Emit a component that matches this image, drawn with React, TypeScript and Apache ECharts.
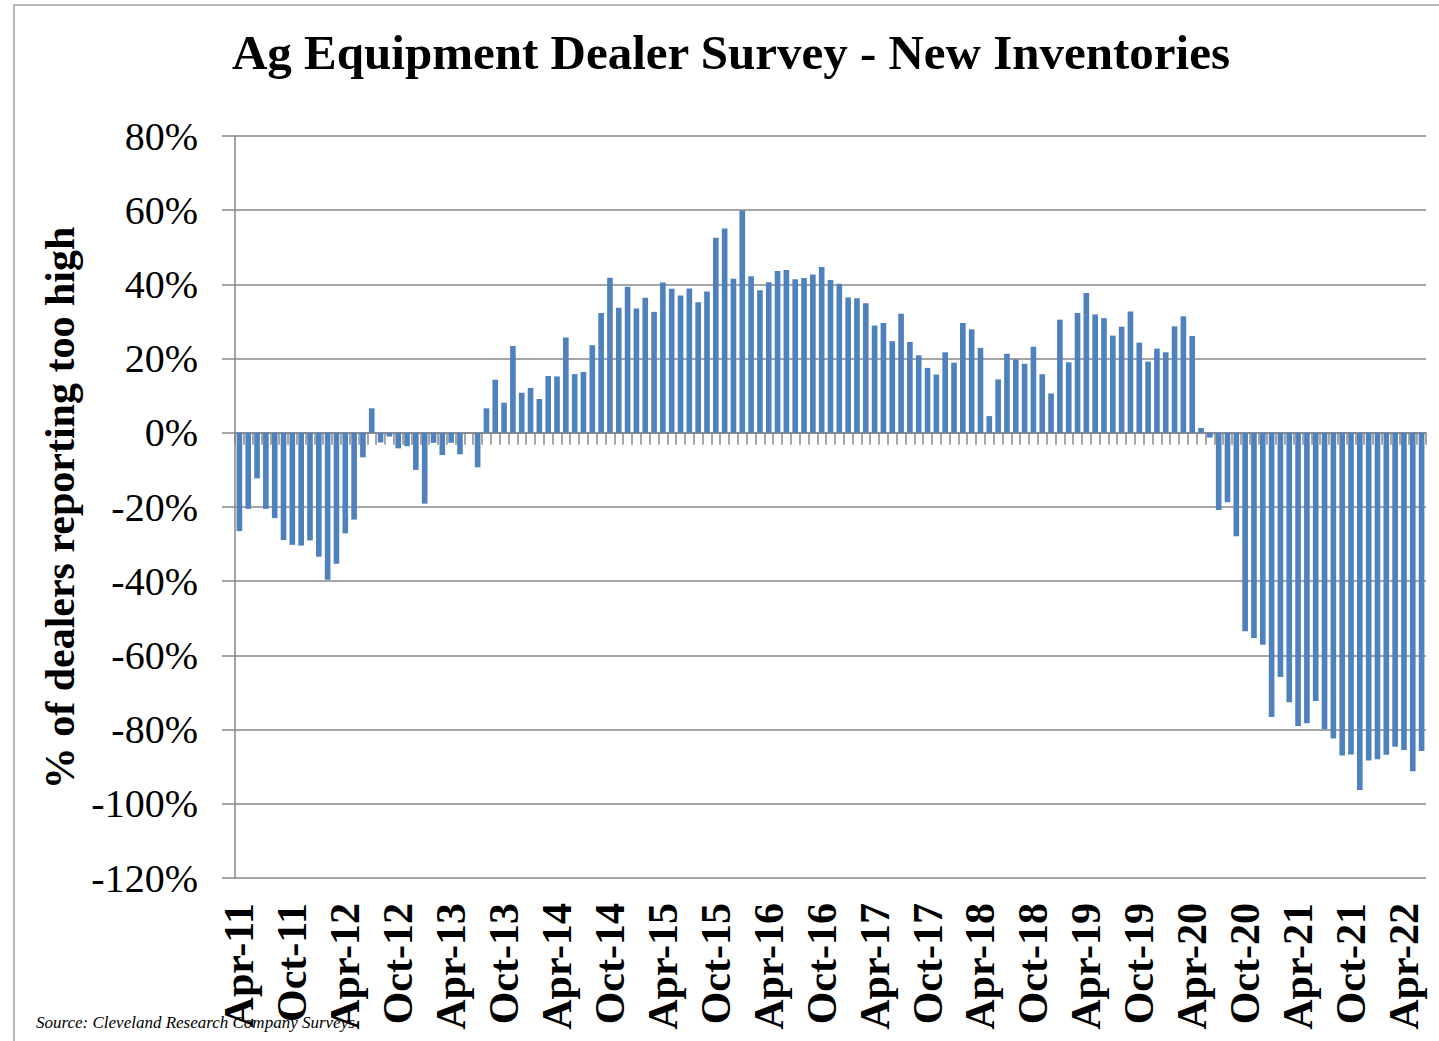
import React, { useEffect, useRef } from "react";
import * as echarts from "echarts";

const TITLE = "Ag Equipment Dealer Survey - New Inventories";
const Y_NAME = "% of dealers reporting too high";
const SOURCE = "Source: Cleveland Research Company Surveys";

const MONTHS = ["Jan", "Feb", "Mar", "Apr", "May", "Jun", "Jul", "Aug", "Sep", "Oct", "Nov", "Dec"];
// Monthly categories Apr-11 .. Jun-22
const categories: string[] = [];
for (let y = 2011; y <= 2022; y++) {
  for (let m = 0; m < 12; m++) {
    if (y === 2011 && m < 3) continue;
    if (y === 2022 && m > 5) continue;
    categories.push(`${MONTHS[m]}-${String(y).slice(2)}`);
  }
}

const values2011 = [-26.5, -20.5, -12.3, -20.5, -23.0, -28.9, -30.2, -30.4, -29.0];
const values2012 = [-33.4, -39.6, -35.3, -27.1, -23.4, -6.6, 6.6, -2.6, -1.0, -4.2, -3.6, -10.0];
const values2013 = [-19.1, -2.7, -6.0, -2.7, -5.8, 0, -9.3, 6.6, 14.3, 8.1, 23.4, 10.8];
const values2014 = [12.1, 9.1, 15.3, 15.2, 25.7, 15.8, 16.4, 23.6, 32.3, 41.8, 33.7, 39.4];
const values2015 = [33.5, 36.4, 32.6, 40.5, 38.8, 37.0, 38.9, 35.2, 38.1, 52.6, 55.1, 41.5];
const values2016 = [59.9, 42.2, 38.4, 40.6, 43.6, 43.9, 41.4, 41.7, 42.7, 44.7, 41.2, 40.2];
const values2017 = [36.5, 36.3, 34.9, 28.9, 29.6, 24.7, 32.1, 24.5, 20.9, 17.5, 15.7, 21.7];
const values2018 = [18.9, 29.6, 27.9, 22.9, 4.5, 14.4, 21.3, 19.8, 18.6, 23.2, 15.8, 10.6];
const values2019 = [30.5, 19.0, 32.3, 37.7, 31.9, 30.9, 26.2, 28.6, 32.7, 24.3, 19.2, 22.7];
const values2020 = [21.7, 28.7, 31.4, 26.1, 1.3, -1.3, -20.8, -18.7, -27.9, -53.5, -55.3, -57.1];
const values2021 = [-76.6, -65.8, -72.6, -79.0, -78.3, -72.3, -79.9, -82.4, -87.0, -86.7, -96.3, -88.3];
const values2022 = [-88.0, -86.8, -84.6, -85.5, -91.2, -85.8];

const values = [
  ...values2011, ...values2012, ...values2013, ...values2014, ...values2015, ...values2016,
  ...values2017, ...values2018, ...values2019, ...values2020, ...values2021, ...values2022,
];

const SERIF = "'Liberation Serif', 'Times New Roman', serif";
const GRAY = "#878787";

export default function App() {
  const ref = useRef<HTMLDivElement>(null);
  useEffect(() => {
    document.body.style.margin = "0";
    const chart = echarts.init(ref.current!, null, { renderer: "svg" });
    chart.setOption({
      animation: false,
      backgroundColor: "#ffffff",
      grid: { left: 235, right: 13, top: 136, bottom: 163, containLabel: false },
      graphic: [
        {
          type: "rect",
          shape: { x: 14, y: 5, width: 1500, height: 1100 },
          style: { fill: "none", stroke: "#a0a0a0", lineWidth: 1.5 },
          silent: true,
        },
        {
          type: "text",
          x: 731,
          y: 52,
          style: {
            text: TITLE,
            font: `bold 49px ${SERIF}`,
            fill: "#000",
            textAlign: "center",
            textVerticalAlign: "middle",
          },
        },
        {
          type: "text",
          x: 60,
          y: 508,
          rotation: Math.PI / 2,
          style: {
            text: Y_NAME,
            font: `bold 42px ${SERIF}`,
            fill: "#000",
            textAlign: "center",
            textVerticalAlign: "middle",
          },
        },
        {
          type: "text",
          x: 36,
          y: 1022,
          z: 100,
          style: {
            text: SOURCE,
            font: `italic 17px ${SERIF}`,
            fill: "#000",
            textAlign: "left",
            textVerticalAlign: "middle",
          },
        },
      ],
      xAxis: [
        {
          type: "category",
          data: categories,
          position: "bottom",
          boundaryGap: true,
          axisLine: { show: true, onZero: true, lineStyle: { color: GRAY, width: 1.5 } },
          axisTick: { show: true, interval: 0, length: 12, lineStyle: { color: GRAY, width: 1.5 } },
          axisLabel: { show: false },
          splitLine: { show: false },
        },
        {
          type: "category",
          data: categories,
          position: "bottom",
          boundaryGap: true,
          axisLine: { show: false, onZero: false },
          axisTick: { show: false },
          axisLabel: {
            show: true,
            interval: 5,
            rotate: 90,
            margin: 25,
            color: "#000",
            fontFamily: SERIF,
            fontWeight: "bold",
            fontSize: 42,
          },
          splitLine: { show: false },
        },
      ],
      yAxis: {
        type: "value",
        min: -120,
        max: 80,
        interval: 20,
        axisLine: { show: true, lineStyle: { color: GRAY, width: 1.5 } },
        axisTick: { show: true, length: 13, lineStyle: { color: GRAY, width: 1.5 } },
        axisLabel: {
          formatter: "{value}%",
          margin: 37,
          color: "#000",
          fontFamily: SERIF,
          fontSize: 40,
        },
        splitLine: { show: true, lineStyle: { color: GRAY, width: 1.5 } },
      },
      series: [
        {
          type: "bar",
          xAxisIndex: 0,
          yAxisIndex: 0,
          data: values,
          barCategoryGap: "36%",
          itemStyle: { color: "#4F81BD" },
        },
      ],
    });
    return () => chart.dispose();
  }, []);
  return <div ref={ref} style={{ width: 1439, height: 1041 }} />;
}
